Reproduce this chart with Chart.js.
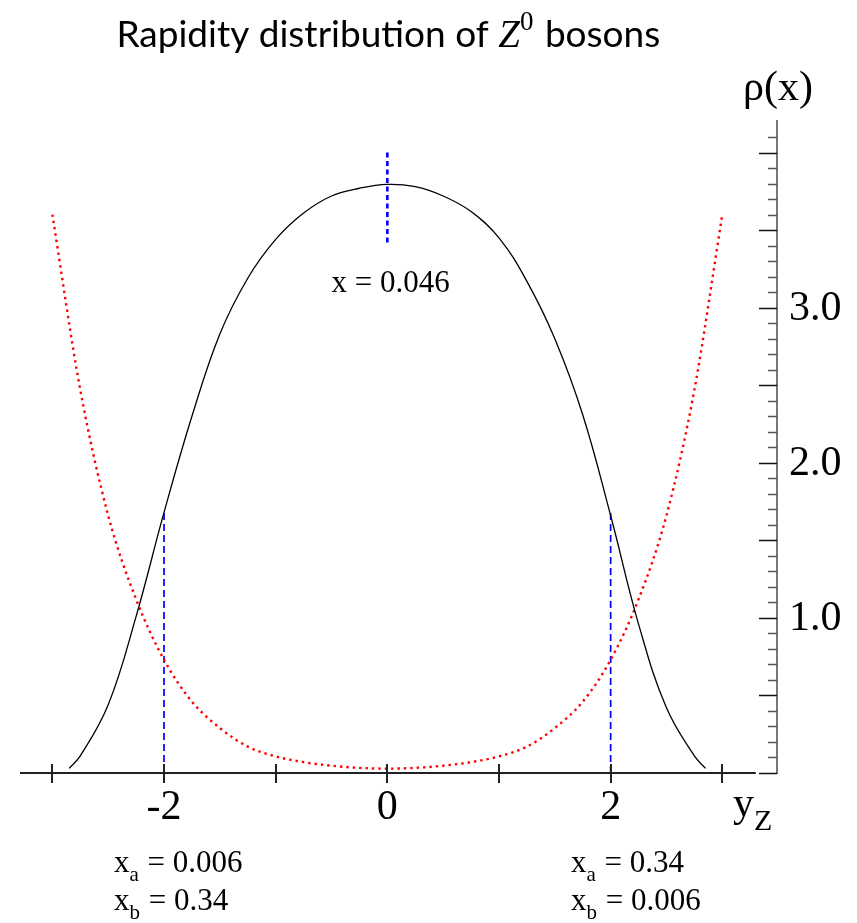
<!DOCTYPE html>
<html>
<head>
<meta charset="utf-8">
<title>Rapidity distribution of Z0 bosons</title>
<script src="https://cdn.jsdelivr.net/npm/chart.js@4"></script>
<style>
  html, body { margin: 0; padding: 0; background: #fff; }
  #chart { display: block; }
</style>
</head>
<body>
<canvas id="chart" width="857" height="923"></canvas>
<script>
// Z0 rapidity distribution (black, solid)
const zRapidity = [-2.85, -2.75, -2.5, -2.25, -2, -1.75, -1.5, -1.25, -1, -0.75, -0.5, -0.25, 0,
  0.25, 0.5, 0.75, 1, 1.25, 1.5, 1.75, 2, 2.25, 2.5, 2.75, 2.85];
const zRho = [0.03, 0.11, 0.44, 1.01, 1.68, 2.30, 2.83, 3.19, 3.44, 3.61, 3.72, 3.77, 3.795,
  3.78, 3.72, 3.62, 3.45, 3.17, 2.80, 2.31, 1.66, 0.96, 0.42, 0.11, 0.03];

// red dotted curve
const redRapidity = [-3, -2.75, -2.5, -2.25, -2, -1.75, -1.5, -1.25, -1, -0.75, -0.5, -0.25, 0,
  0.25, 0.5, 0.75, 1, 1.25, 1.5, 1.75, 2, 2.25, 2.5, 2.75, 3];
const redRho = [3.6, 2.47, 1.66, 1.12, 0.73, 0.46, 0.29, 0.17, 0.107, 0.07, 0.047, 0.033, 0.028,
  0.033, 0.047, 0.07, 0.107, 0.17, 0.29, 0.46, 0.73, 1.12, 1.66, 2.47, 3.6];

// blue dashed markers: [rapidity, rho from, rho to]
const markerLeft = [-2, 0, 1.68];
const markerRight = [2, 0, 1.68];
const markerCenter = [0, 3.42, 4.01];

// axes
const xRange = [-3.29, 3.49];
const yRange = [0, 4.21];
const xTicks = [-3, -2, -1, 0, 1, 2, 3];
const xTickLabels = ['', '-2', '', '0', '', '2', ''];
const yTickLabels = ['1.0', '2.0', '3.0'];
const yTickValues = [1, 2, 3];

const SERIF = '"Liberation Serif", "Times New Roman", serif';
const SANS = 'Lato, "DejaVu Sans", sans-serif';

function toPoints(xs, ys) {
  return xs.map((x, i) => ({ x: x, y: ys[i] }));
}

function markerPoints(m) {
  return [{ x: m[0], y: m[1] }, { x: m[0], y: m[2] }];
}

// draws axes, ticks and all text on top of the chart
const decorations = {
  id: 'decorations',
  afterDraw(chart) {
    const ctx = chart.ctx;
    const xs = chart.scales.x;
    const ys = chart.scales.y;
    const y0 = ys.getPixelForValue(0);
    const xRight = chart.chartArea.right;

    ctx.save();

    // x axis
    ctx.strokeStyle = '#222';
    ctx.lineWidth = 2;
    ctx.beginPath();
    ctx.moveTo(chart.chartArea.left, y0);
    ctx.lineTo(xs.getPixelForValue(3.3), y0);
    ctx.stroke();
    xTicks.forEach(v => {
      const px = Math.round(xs.getPixelForValue(v));
      ctx.beginPath();
      ctx.moveTo(px, y0 - 9);
      ctx.lineTo(px, y0 + 10);
      ctx.stroke();
    });

    // y axis on the right
    ctx.strokeStyle = '#777';
    ctx.lineWidth = 2;
    ctx.beginPath();
    ctx.moveTo(xRight, chart.chartArea.top);
    ctx.lineTo(xRight, y0 + 1);
    ctx.stroke();
    ctx.lineWidth = 1.5;
    for (let i = 0; i <= 41; i++) {
      const v = i / 10;
      const py = Math.round(ys.getPixelForValue(v)) + 0.5;
      const major = i % 5 === 0;
      ctx.strokeStyle = major ? '#111' : '#555';
      ctx.beginPath();
      ctx.moveTo(xRight - (major ? 18 : 9), py);
      ctx.lineTo(xRight, py);
      ctx.stroke();
    }

    // tick labels
    ctx.fillStyle = '#000';
    ctx.font = '42px ' + SERIF;
    ctx.textAlign = 'left';
    ctx.textBaseline = 'middle';
    yTickValues.forEach((v, i) => {
      ctx.fillText(yTickLabels[i], xRight + 12, ys.getPixelForValue(v) + 1);
    });
    ctx.textAlign = 'center';
    ctx.textBaseline = 'alphabetic';
    xTicks.forEach((v, i) => {
      if (xTickLabels[i]) ctx.fillText(xTickLabels[i], xs.getPixelForValue(v), y0 + 46);
    });

    // axis titles
    ctx.fillText('\u03C1(x)', xRight + 1, 100);
    ctx.textAlign = 'left';
    ctx.fillText('y', 733, y0 + 43);
    ctx.font = '30px ' + SERIF;
    ctx.fillText('Z', 754, y0 + 57);

    // x annotations
    ctx.font = '31px ' + SERIF;
    ctx.textAlign = 'center';
    ctx.fillText('x = 0.046', xs.getPixelForValue(0.03), ys.getPixelForValue(3.1));

    function subLabel(x, y, sub, rest) {
      ctx.textAlign = 'left';
      ctx.font = '31px ' + SERIF;
      ctx.fillText('x', x, y);
      let w = ctx.measureText('x').width;
      ctx.font = '21px ' + SERIF;
      ctx.fillText(sub, x + w, y + 9);
      w += ctx.measureText(sub).width;
      ctx.font = '31px ' + SERIF;
      ctx.fillText(rest, x + w + 1, y);
    }
    subLabel(114, 872, 'a', ' = 0.006');
    subLabel(114, 910, 'b', ' = 0.34');
    subLabel(571, 872, 'a', ' = 0.34');
    subLabel(571, 910, 'b', ' = 0.006');

    // title with Z^0
    const parts = [
      { t: 'Rapidity distribution of ', f: '37px ' + SANS, dy: 0 },
      { t: 'Z', f: 'italic 39px ' + SERIF, dy: 0 },
      { t: '0', f: '27px ' + SERIF, dy: -17 },
      { t: ' bosons', f: '37px ' + SANS, dy: 0 }
    ];
    let total = 0;
    parts.forEach(p => { ctx.font = p.f; p.w = ctx.measureText(p.t).width; total += p.w; });
    let tx = xs.getPixelForValue(0) - total / 2;
    ctx.textAlign = 'left';
    parts.forEach(p => {
      ctx.font = p.f;
      ctx.fillText(p.t, tx, 47 + p.dy);
      tx += p.w + (p.t === '0' ? 2 : 0);
    });

    ctx.restore();
  }
};

new Chart(document.getElementById('chart'), {
  type: 'scatter',
  data: {
    datasets: [
      {
        data: toPoints(zRapidity, zRho),
        showLine: true,
        borderColor: '#000',
        borderWidth: 1.3,
        pointRadius: 0,
        tension: 0.4
      },
      {
        data: toPoints(redRapidity, redRho),
        showLine: true,
        borderColor: '#ff0000',
        borderWidth: 2.4,
        borderDash: [2.4, 4],
        pointRadius: 0,
        cubicInterpolationMode: 'monotone'
      },
      {
        data: markerPoints(markerLeft),
        showLine: true,
        borderColor: '#0000ff',
        borderWidth: 1.7,
        borderDash: [7, 4],
        pointRadius: 0
      },
      {
        data: markerPoints(markerRight),
        showLine: true,
        borderColor: '#0000ff',
        borderWidth: 1.7,
        borderDash: [7, 4],
        pointRadius: 0
      },
      {
        data: markerPoints(markerCenter),
        showLine: true,
        borderColor: '#0000ff',
        borderWidth: 2.6,
        borderDash: [5, 3.5],
        pointRadius: 0
      }
    ]
  },
  options: {
    responsive: false,
    animation: false,
    layout: { padding: { left: 20, right: 80, top: 120, bottom: 150 } },
    plugins: {
      legend: { display: false },
      tooltip: { enabled: false },
      title: { display: false }
    },
    scales: {
      x: { type: 'linear', min: xRange[0], max: xRange[1], display: false },
      y: { type: 'linear', min: yRange[0], max: yRange[1], display: false }
    }
  },
  plugins: [decorations]
});
</script>
</body>
</html>
